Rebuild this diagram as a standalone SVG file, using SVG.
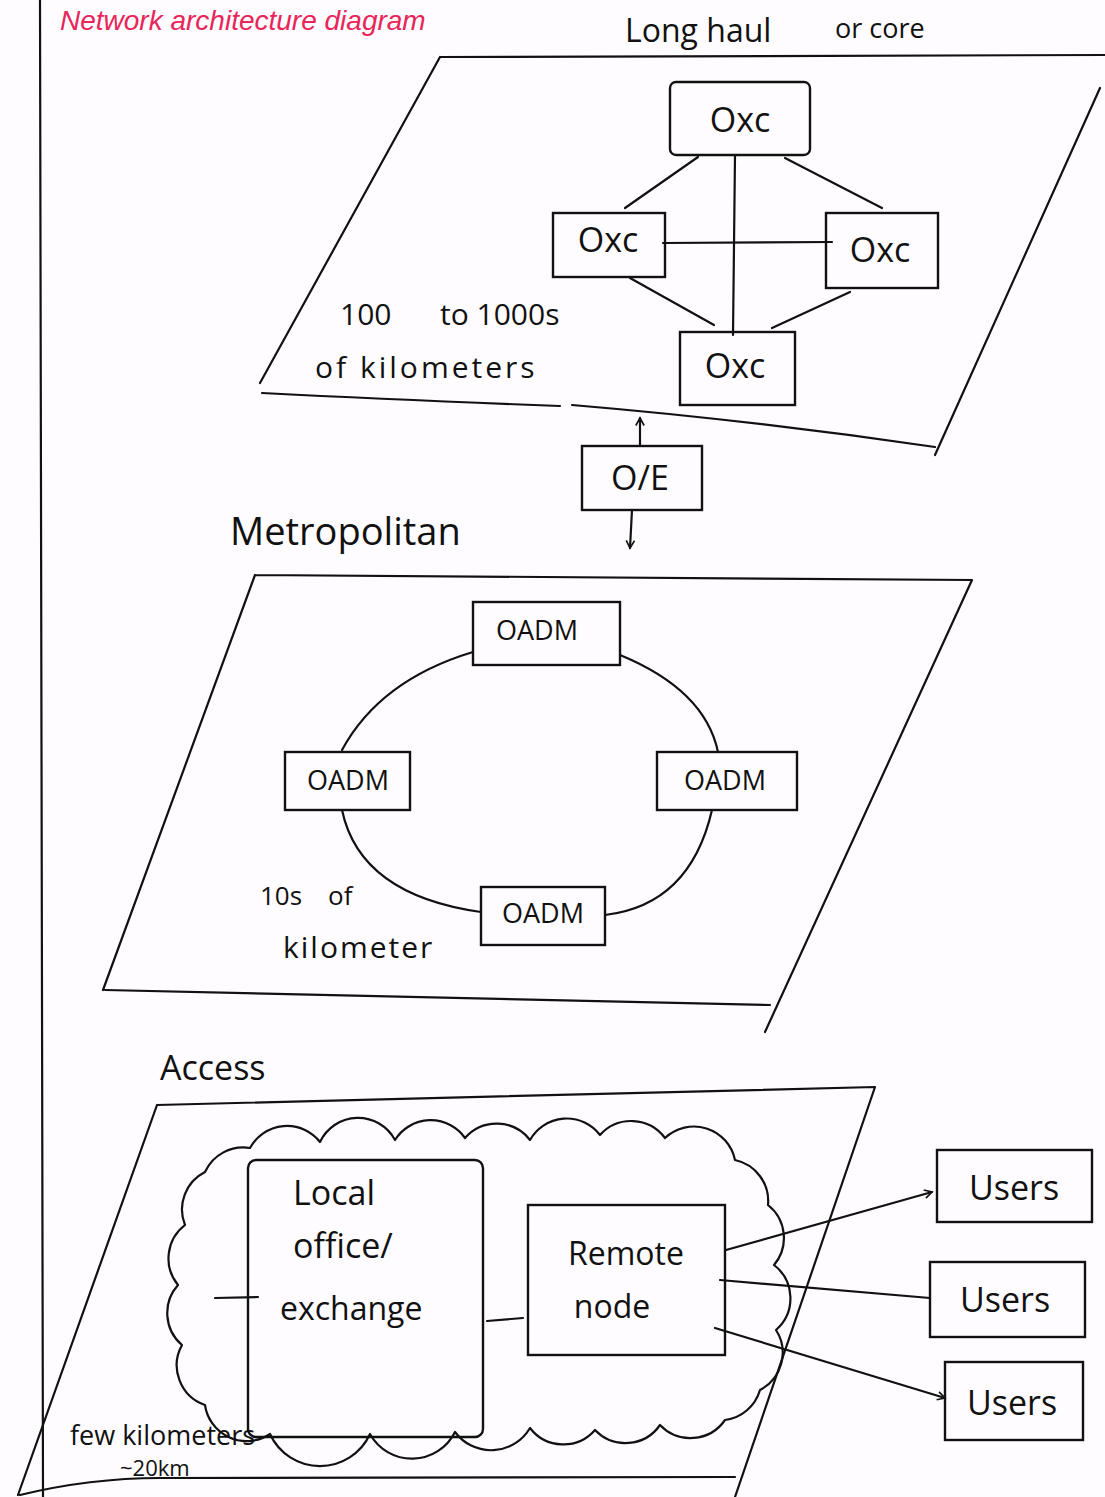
<svg xmlns="http://www.w3.org/2000/svg" width="1105" height="1497" viewBox="0 0 1105 1497">
<style>
.s{fill:none;stroke:#111;stroke-width:2.2;stroke-linecap:round;stroke-linejoin:round}
.b{fill:none;stroke:#111;stroke-width:2.4}
.t{font-family:"Open Sans","Liberation Sans",sans-serif;fill:#111}
.n{font-size:34px;text-anchor:middle}
.o{font-size:27px;text-anchor:middle}
</style>
<defs>
<marker id="ah" viewBox="0 0 12 12" refX="10" refY="6" markerWidth="10" markerHeight="10" orient="auto" markerUnits="userSpaceOnUse">
<path d="M1,1 L10,6 L1,11" fill="none" stroke="#111" stroke-width="2"/>
</marker>
</defs>
<rect width="1105" height="1497" fill="#fefcfe"/>
<line class="s" x1="40" y1="0" x2="43" y2="1497"/>
<text x="60" y="30" font-family="Liberation Sans,sans-serif" font-style="italic" font-size="28" fill="#e8265a">Network architecture diagram</text>

<g id="planes">
<path class="s" d="M440,57 L260,383 M440,57 L1105,55 M262,393 Q400,400 560,406 M572,405 Q750,420 935,447 M1100,88 L935,455"/>
<path class="s" d="M255,575 L103,990 M255,575 L972,580 L765,1032 M105,990 Q450,998 770,1005"/>
<path class="s" d="M157,1105 L18,1495 M157,1105 L875,1087 L735,1497 M20,1495 Q90,1478 160,1478 L735,1477"/>
</g>

<g id="labels">
<text class="t" x="625" y="42" font-size="32">Long haul</text>
<text class="t" x="835" y="38" font-size="27">or core</text>
<text class="t" font-size="30"><tspan x="340" y="325">100</tspan><tspan x="440" y="325">to 1000s</tspan></text>
<text class="t" x="315" y="378" font-size="30" letter-spacing="3">of kilometers</text>
<text class="t" x="230" y="545" font-size="38">Metropolitan</text>
<text class="t" font-size="26"><tspan x="260" y="905">10s</tspan><tspan x="328" y="905">of</tspan></text>
<text class="t" x="283" y="958" font-size="30" letter-spacing="2">kilometer</text>
<text class="t" x="160" y="1080" font-size="34">Access</text>
<text class="t" x="70" y="1445" font-size="27">few kilometers</text>
<text class="t" x="120" y="1476" font-size="22">~20km</text>
</g>

<g id="connectors">
<line class="s" x1="735" y1="155" x2="733" y2="335"/>
<line class="s" x1="663" y1="243" x2="832" y2="242"/>
<line class="s" x1="625" y1="208" x2="698" y2="157"/>
<line class="s" x1="785" y1="158" x2="882" y2="208"/>
<line class="s" x1="630" y1="278" x2="714" y2="325"/>
<line class="s" x1="850" y1="292" x2="772" y2="328"/>
<line class="s" x1="640" y1="446" x2="640" y2="418" marker-end="url(#ah)"/>
<line class="s" x1="632" y1="510" x2="630" y2="548" marker-end="url(#ah)"/>
<path class="s" d="M473,652 Q380,680 342,750"/>
<path class="s" d="M620,655 Q705,690 718,752"/>
<path class="s" d="M342,810 Q360,895 481,912"/>
<path class="s" d="M712,810 Q690,905 605,915"/>
<line class="s" x1="215" y1="1298" x2="258" y2="1297"/>
<line class="s" x1="487" y1="1321" x2="523" y2="1318"/>
<line class="s" x1="726" y1="1250" x2="932" y2="1192" marker-end="url(#ah)"/>
<line class="s" x1="720" y1="1280" x2="930" y2="1298"/>
<line class="s" x1="715" y1="1328" x2="945" y2="1398" marker-end="url(#ah)"/>
</g>

<g id="oxc-top"><rect class="b" x="670" y="82" width="140" height="73" rx="6"/><text class="t n" x="740" y="132">Oxc</text></g>
<g id="oxc-left"><rect class="b" x="553" y="213" width="112" height="64"/><text class="t n" x="608" y="252">Oxc</text></g>
<g id="oxc-right"><rect class="b" x="826" y="213" width="112" height="75"/><text class="t n" x="880" y="262">Oxc</text></g>
<g id="oxc-bottom"><rect class="b" x="680" y="332" width="115" height="73"/><text class="t n" x="735" y="378">Oxc</text></g>
<g id="oe"><rect class="b" x="582" y="446" width="120" height="64"/><text class="t n" x="640" y="490">O/E</text></g>

<g id="oadm-top"><rect class="b" x="473" y="602" width="147" height="63"/><text class="t o" x="537" y="640">OADM</text></g>
<g id="oadm-left"><rect class="b" x="285" y="752" width="125" height="58"/><text class="t o" x="348" y="790">OADM</text></g>
<g id="oadm-right"><rect class="b" x="657" y="752" width="140" height="58"/><text class="t o" x="725" y="790">OADM</text></g>
<g id="oadm-bottom"><rect class="b" x="481" y="887" width="124" height="58"/><text class="t o" x="543" y="923">OADM</text></g>

<g id="cloud">
<path class="s" d="M250,1148 A42,42 0 0 1 320,1142 A42,42 0 0 1 395,1140 A42,42 0 0 1 465,1138 A42,42 0 0 1 530,1140 A42,42 0 0 1 600,1135 A42,42 0 0 1 665,1138 A42,42 0 0 1 735,1160 A42,42 0 0 1 768,1205 A42,42 0 0 1 774,1265 A42,42 0 0 1 776,1330 A42,42 0 0 1 760,1390 A42,42 0 0 1 725,1420 A42,42 0 0 1 660,1425 A42,42 0 0 1 595,1430 A42,42 0 0 1 530,1428 A45,45 0 0 1 455,1432 A48,48 0 0 1 370,1434 A55,55 0 0 1 270,1434 A42,42 0 0 1 205,1405 A42,42 0 0 1 182,1345 A42,42 0 0 1 178,1285 A42,42 0 0 1 185,1225 A42,42 0 0 1 205,1172 A42,42 0 0 1 250,1148 Z"/>
</g>
<g id="local-office"><rect class="b" x="248" y="1160" width="235" height="277" rx="8" fill="#fefcfe"/>
<text class="t" x="293" y="1205" font-size="34">Local</text>
<text class="t" x="293" y="1258" font-size="34">office/</text>
<text class="t" x="280" y="1320" font-size="32">exchange</text></g>
<g id="remote-node"><rect class="b" x="528" y="1205" width="197" height="150" fill="#fefcfe"/>
<text class="t" x="626" y="1265" font-size="32" text-anchor="middle">Remote</text>
<text class="t" x="612" y="1318" font-size="32" text-anchor="middle">node</text></g>
<g id="users-1"><rect class="b" x="937" y="1150" width="155" height="72"/><text class="t n" x="1014" y="1200">Users</text></g>
<g id="users-2"><rect class="b" x="930" y="1262" width="155" height="75"/><text class="t n" x="1005" y="1312">Users</text></g>
<g id="users-3"><rect class="b" x="945" y="1362" width="138" height="78"/><text class="t n" x="1012" y="1415">Users</text></g>
</svg>
